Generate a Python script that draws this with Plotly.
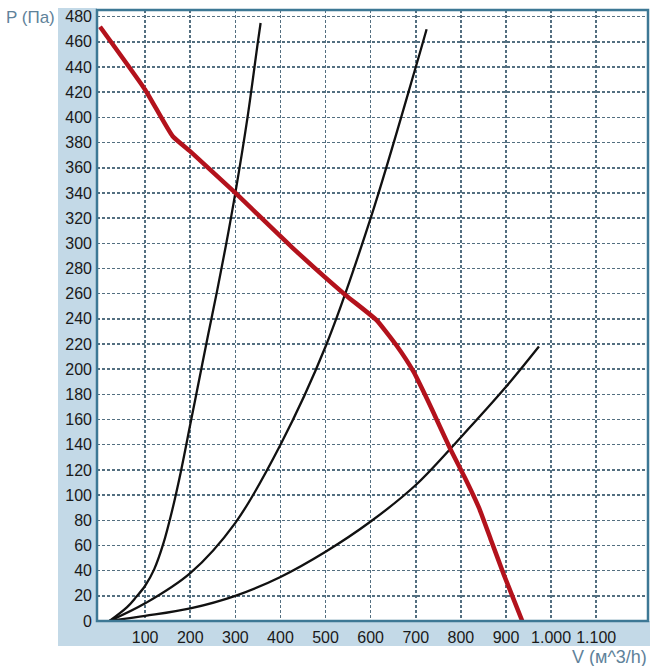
import plotly.graph_objects as go

# Fan curve (red)
fan_v = [0, 100, 161, 200, 300, 425, 544, 613, 657, 695, 736, 776, 810, 840, 866, 895, 936]
fan_p = [472, 422, 385, 373, 340, 297, 259, 239, 219, 198, 168, 137, 113, 90, 65, 37, 0]

# System curves (black)
sys1_v = [21, 60, 80, 100, 120, 140, 160, 180, 200, 220, 240, 260, 280, 300, 327, 350, 356]
sys1_p = [0, 11, 19, 28, 41, 61, 88, 120, 156, 192, 228, 263, 300, 340, 400, 460, 475]

sys2_v = [21, 100, 200, 300, 400, 500, 600, 700, 724]
sys2_p = [0, 14, 38, 78, 140, 218, 320, 440, 470]

sys3_v = [21, 100, 200, 300, 400, 500, 600, 700, 800, 900, 973]
sys3_p = [0, 4, 10, 20, 35, 55, 79, 108, 146, 186, 218]

x_ticks = [100, 200, 300, 400, 500, 600, 700, 800, 900, 1000, 1100]
x_labels = ["100", "200", "300", "400", "500", "600", "700", "800", "900", "1.000", "1.100"]
y_ticks = list(range(0, 481, 20))
y_labels = [str(v) for v in y_ticks]

GRID = "#536f80"
BORDER = "#3d7895"
STRIP = "#c3d9e7"
FONT = "Liberation Sans, Arial, sans-serif"

fig = go.Figure()
for vx, py in [(sys1_v, sys1_p), (sys2_v, sys2_p), (sys3_v, sys3_p)]:
    fig.add_trace(go.Scatter(x=vx, y=py, mode="lines",
                             line=dict(color="#111111", width=2.3, shape="spline", smoothing=1.0),
                             hoverinfo="skip"))
fig.add_trace(go.Scatter(x=fan_v, y=fan_p, mode="lines",
                         line=dict(color="#b3121c", width=4.5, shape="spline", smoothing=0.4),
                         hoverinfo="skip"))

W, H = 651, 666
L, R, T, B = 97, 3, 10, 45
pw, ph = W - L - R, H - T - B

def px_x(p):
    return (p - L) / pw

def px_y(p):
    return (H - B - p) / ph

shapes = [
    dict(type="rect", xref="paper", yref="paper", layer="below",
         x0=px_x(58), x1=px_x(97), y0=px_y(646), y1=px_y(8),
         fillcolor=STRIP, line=dict(width=0)),
    dict(type="rect", xref="paper", yref="paper", layer="below",
         x0=px_x(58), x1=px_x(650), y0=px_y(646), y1=px_y(621),
         fillcolor=STRIP, line=dict(width=0)),
    dict(type="rect", xref="paper", yref="paper", layer="above",
         x0=0, x1=1, y0=0, y1=1, line=dict(color=BORDER, width=2.5)),
]

fig.update_layout(
    width=W, height=H,
    margin=dict(l=L, r=R, t=T, b=B, autoexpand=False),
    paper_bgcolor="white", plot_bgcolor="white",
    showlegend=False,
    font=dict(family=FONT, size=16, color="#1a1a1a"),
    shapes=shapes,
    annotations=[
        dict(text="P (Па)", xref="paper", yref="paper", x=px_x(4), y=px_y(17),
             xanchor="left", yanchor="middle", showarrow=False,
             font=dict(family=FONT, size=17, color="#60829a")),
        dict(text="V (м^3/h)", xref="paper", yref="paper", x=px_x(649), y=px_y(657),
             xanchor="right", yanchor="middle", showarrow=False,
             font=dict(family=FONT, size=18, color="#60829a")),
    ],
)
fig.update_xaxes(range=[-6.7, 1214.8], tickvals=x_ticks, ticktext=x_labels,
                 showgrid=True, gridcolor=GRID, gridwidth=1.5, griddash="3px,2px",
                 zeroline=False, showline=False, ticks="", ticklabelstandoff=5,
                 automargin=False, fixedrange=True)
fig.update_yaxes(range=[0, 485.3], tickvals=y_ticks, ticktext=y_labels,
                 showgrid=True, gridcolor=GRID, gridwidth=1.5, griddash="3px,2px",
                 zeroline=False, showline=False, ticks="", ticklabelstandoff=4,
                 automargin=False, fixedrange=True)

fig.write_html("out.html",
               config={"displayModeBar": False, "staticPlot": True},
               post_script="document.body.style.margin='0';document.body.style.padding='0';"
                           "document.body.style.overflow='hidden';"
                           "document.documentElement.style.overflow='hidden';")
